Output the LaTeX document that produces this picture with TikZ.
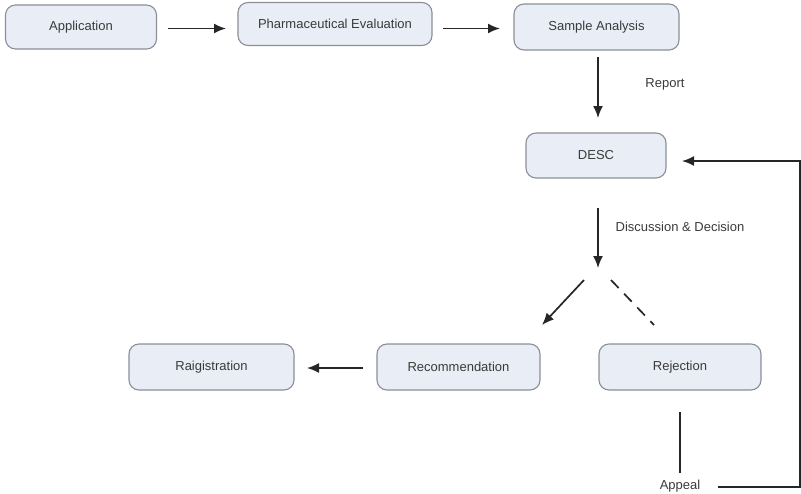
\documentclass[tikz,border=0pt]{standalone}
\usepackage{fontspec}
\setmainfont{Liberation Sans}
\usetikzlibrary{arrows.meta}
\definecolor{boxfill}{HTML}{E9EDF5}
\definecolor{boxdraw}{HTML}{8A8F99}
\definecolor{txt}{HTML}{3A3A3A}
\begin{document}
\begin{tikzpicture}[x=1pt,y=-1pt,
  box/.style={draw=boxdraw,line width=1.1pt,fill=boxfill,rounded corners=10pt,
    inner sep=0pt,text=txt,font=\fontsize{13}{15}\selectfont},
  lbl/.style={inner sep=0pt,text=txt,font=\fontsize{13}{15}\selectfont},
  conn/.style={line width=1.7pt,draw=black!85},
  arr/.style={conn,-{Latex[length=12pt,width=10pt]}}]
\useasboundingbox (0,0) rectangle (801,493);
% boxes
\node[box,minimum width=151pt,minimum height=44pt] (app) at (81,27) {Application};
\node[box,minimum width=194pt,minimum height=43pt] (pharm) at (335,24) {Pharmaceutical Evaluation};
\node[box,minimum width=165pt,minimum height=46pt] (samp) at (596.5,27) {Sample Analysis};
\node[box,minimum width=140pt,minimum height=45pt] (desc) at (596,155.5) {DESC};
\node[box,minimum width=165pt,minimum height=46pt] (reg) at (211.5,367) {Raigistration};
\node[box,minimum width=163pt,minimum height=46pt] (rec) at (458.5,367) {Recommendation};
\node[box,minimum width=162pt,minimum height=46pt] (rej) at (680,367) {Rejection};
% labels
\node[lbl] (report) at (665,84) {Report};
\node[lbl] (disc) at (680,227) {Discussion \& Decision};
\node[lbl] (appeal) at (680,486) {Appeal};
% coordinates
\coordinate (a1s) at (168,28.5);
\coordinate (a1e) at (226,28.5);
\coordinate (a2s) at (443,28.5);
\coordinate (a2e) at (500,28.5);
\coordinate (a3s) at (598,57);
\coordinate (a3e) at (598,118);
\coordinate (a4s) at (598,208);
\coordinate (a4e) at (598,268);
\coordinate (s1) at (584,280);
\coordinate (e1) at (542,325);
\coordinate (s2) at (611,280);
\coordinate (e2) at (654,325);
\coordinate (r1) at (363,368);
\coordinate (r2) at (307,368);
\coordinate (j1) at (680,412);
\coordinate (j2) at (680,473);
\coordinate (p1) at (718,487);
\coordinate (p2) at (800,487);
\coordinate (p3) at (800,161);
\coordinate (p4) at (682,161);
% connectors
\draw[arr] (a1s) -- (a1e);
\draw[arr] (a2s) -- (a2e);
\draw[arr] (a3s) -- (a3e);
\draw[arr] (a4s) -- (a4e);
\draw[arr] (s1) -- (e1);
\draw[conn,dash pattern=on 11pt off 8pt] (s2) -- (e2);
\draw[arr] (r1) -- (r2);
\draw[conn] (j1) -- (j2);
\draw[arr] (p1) -- (p2) -- (p3) -- (p4);
\end{tikzpicture}
\end{document}
